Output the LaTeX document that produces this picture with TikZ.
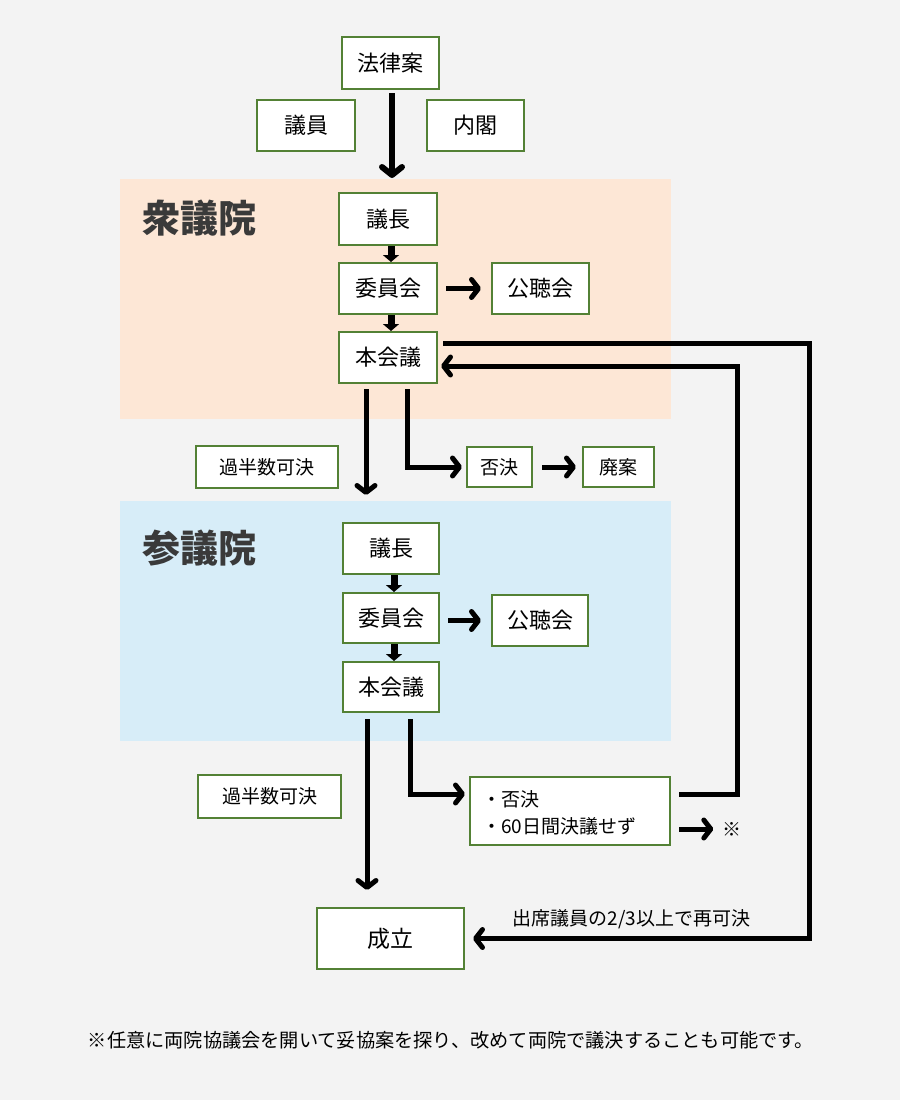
\documentclass[tikz,border=0pt]{standalone}
\usepackage{fontspec}
\setmainfont{Noto Sans CJK JP}
\usetikzlibrary{arrows.meta,calc}
\definecolor{bg}{HTML}{F3F3F3}
\definecolor{pinkbg}{HTML}{FDE7D6}
\definecolor{bluebg}{HTML}{D7EDF8}
\definecolor{boxgreen}{HTML}{538135}
\definecolor{headgray}{HTML}{3A3A3A}
\begin{document}
\begin{tikzpicture}[x=1pt,y=-1pt,
  box/.style={draw=boxgreen, line width=2pt, fill=white, inner sep=0pt, font=\fontsize{22}{26}\selectfont},
  sbox/.style={box, font=\fontsize{19}{23}\selectfont},
  head/.style={font=\fontsize{38}{42}\selectfont\bfseries, text=headgray, inner sep=0pt},
  big/.style={line width=5pt, line join=miter, -{Straight Barb[round,length=7pt,width=18pt]}},
  bigv/.style={line width=6pt, -{Straight Barb[round,length=8pt,width=20pt]}},
  small/.style={line width=7pt, -{Triangle[length=7pt,width=16pt]}},
  sz/.style 2 args={minimum width=#1pt, minimum height=#2pt}
]
\useasboundingbox (0,0) rectangle (900,1100);
\fill[bg] (0,0) rectangle (900,1100);
\fill[pinkbg] (120,179) rectangle (671,419);
\fill[bluebg] (120,501) rectangle (671,741);

\node[head] (shu) at (199.5,218) {衆議院};
\node[head] (san) at (199.5,548) {参議院};

\node[box, sz={97}{52}] (law) at (390.5,63) {法律案};
\node[box, sz={98}{51}] (giin) at (306,125.5) {議員};
\node[box, sz={97}{51}] (naikaku) at (475.5,125.5) {内閣};

\node[box, sz={98}{52}] (s1) at (388,219) {議長};
\node[box, sz={98}{51}] (s2) at (388,288.5) {委員会};
\node[box, sz={97}{51}] (s3) at (540.5,288.5) {公聴会};
\node[box, sz={98}{51}] (s4) at (388,357.5) {本会議};

\node[sbox, sz={142}{42}] (kahan1) at (267,467) {過半数可決};
\node[sbox, sz={65}{40}] (hiketsu) at (499.5,467) {否決};
\node[sbox, sz={71}{40}] (haian) at (618.5,467) {廃案};

\node[box, sz={96}{51}] (h1) at (391,548.5) {議長};
\node[box, sz={96}{50}] (h2) at (391,618) {委員会};
\node[box, sz={96}{51}] (h3) at (540,620.5) {公聴会};
\node[box, sz={96}{50}] (h4) at (391,687) {本会議};

\node[sbox, sz={143}{43}] (kahan2) at (269.5,796.5) {過半数可決};
\node[sbox, sz={200}{68}] (hiketsu2) at (570,811) {};
\node[anchor=west, inner sep=0pt, align=left, font=\fontsize{19}{27}\selectfont] (hk2text) at (482,812.5) {・否決\\・60日間決議せず};
\node[font=\fontsize{19}{22}\selectfont, inner sep=0pt] (kome) at (732,829) {※};

\node[box, sz={147}{61}, font=\fontsize{23}{27}\selectfont] (seiritsu) at (390.5,938.5) {成立};
\node[font=\fontsize{19}{22}\selectfont, inner sep=0pt] (lbl) at (631.5,919) {出席議員の2/3以上で再可決};

\node[font=\fontsize{19.2}{22}\selectfont, inner sep=0pt] (note) at (451,1040) {※任意に両院協議会を開いて妥協案を探り、改めて両院で議決することも可能です。};

% coordinates for free ends and corners
\coordinate (a0) at (392,178);
\coordinate (d1) at (366,495);
\coordinate (d2) at (367,890);
\coordinate (outer) at (809,938.5);
\coordinate (inner) at (737,366);

% arrows
\draw[bigv] ([xshift=1.5pt,yshift=-3pt]law.south) -- (a0);

\draw[small] ([xshift=3pt]s1.south) -- ([xshift=3pt]s2.north);
\draw[small] ([xshift=3pt]s2.south) -- ([xshift=3pt]s4.north);
\draw[big, shorten <=8pt, shorten >=10pt] (s2.east) -- (s3.west);

\draw[big] ([xshift=5pt,yshift=14.5pt]s4.east) -| (outer) -- ([xshift=8pt]seiritsu.east);
\draw[big] ([xshift=8pt,yshift=17pt]hiketsu2.east) -| (inner) -- ([xshift=3pt]s4.east |- inner);

\draw[big] ([xshift=-22pt,yshift=-5pt]s4.south) -- (d1);
\draw[big] ([xshift=19pt,yshift=-5pt]s4.south) |- ([xshift=-4pt]hiketsu.west);
\draw[big, shorten <=9pt, shorten >=6pt] (hiketsu.east) -- (haian.west);

\draw[small] ([xshift=3pt]h1.south) -- ([xshift=3pt]h2.north);
\draw[small] ([xshift=3pt]h2.south) -- ([xshift=3pt]h4.north);
\draw[big, shorten <=8pt, shorten >=10pt] (h2.east |- h3.west) -- (h3.west);

\draw[big] ([xshift=-24pt,yshift=-6pt]h4.south) -- (d2);
\draw[big] ([xshift=19pt,yshift=-6pt]h4.south) |- ([xshift=-4pt,yshift=17pt]hiketsu2.west);
\draw[big, shorten >=9pt] ([xshift=8pt,yshift=-18pt]hiketsu2.east) -- (kome.west |- kome.center);
\end{tikzpicture}
\end{document}
